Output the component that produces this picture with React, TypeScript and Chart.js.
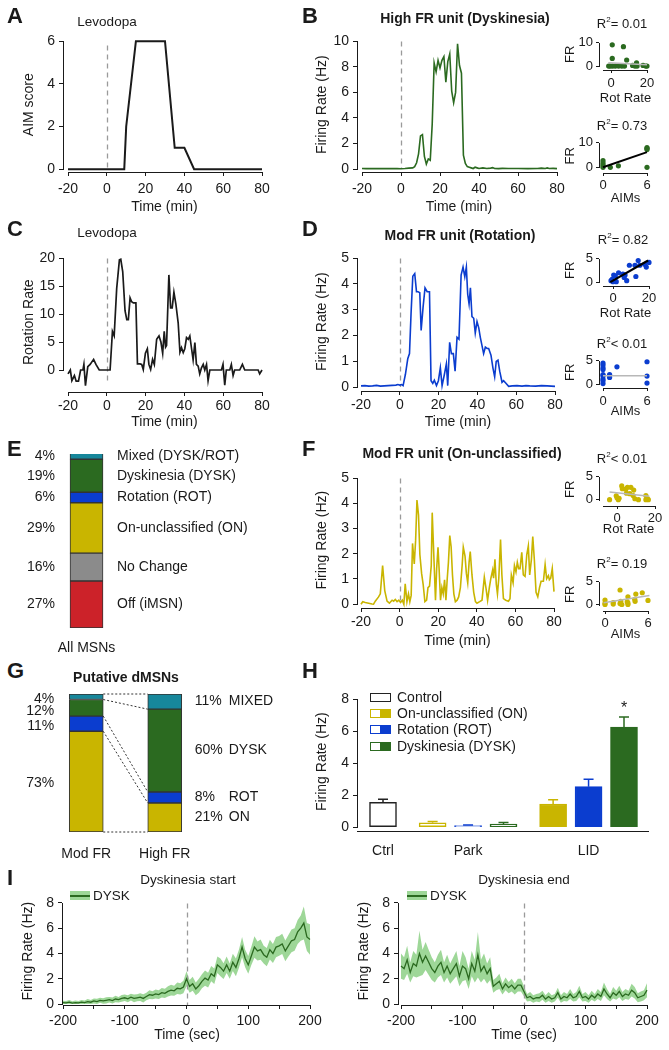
import React, { useEffect, useRef } from "react";
import { Chart, registerables } from "chart.js";

Chart.register(...registerables);

const FONT = "'Liberation Sans', Arial, Helvetica, sans-serif";
const INK = "#1a1a1a";
const DKGREEN = "#2b6a20";
const BLUE = "#0b3dcf";
const YELLOW = "#c9b500";
const TEAL = "#17879b";
const RED = "#cc2229";
const GRAY = "#8b8b8b";
const BAND = "rgba(120, 200, 112, 0.72)";
const FIT_GRAY = "#b8b8b8";

// ------------------------------------------------------------------ data
const MIN_TICKS = [-20, 0, 20, 40, 60, 80];

// A: AIM score vs time
const A_TIME = [-20, -15, -10, -5, 0, 5, 9, 10, 15, 20, 25, 30, 35, 40, 45, 50, 55, 60, 65, 70, 75, 80];
const A_AIM = [0, 0, 0, 0, 0, 0, 0, 2, 6, 6, 6, 6, 1, 1, 0, 0, 0, 0, 0, 0, 0, 0];

// B: High FR unit (Dyskinesia)
const B_TIME = [-20, -18, -16, -14, -12, -10, -8, -6, -4, -2, 0, 2, 4, 6, 7, 8, 9, 10, 11, 12, 13, 14, 15, 16, 17, 18, 19, 20, 21, 22, 23, 24, 25, 26, 27, 28, 29, 30, 31, 32, 33, 34, 35, 36, 37, 38, 39, 40, 42, 44, 46, 47, 48, 50, 52, 55, 60, 65, 70, 72, 74, 75, 76, 78, 80];
const B_FR = [0.05, 0.04, 0.05, 0.04, 0.05, 0.04, 0.05, 0.04, 0.05, 0.04, 0.03, 0.05, 0.08, 0.1, 0.2, 0.5, 1.2, 2.6, 2.7, 1.0, 0.4, 0.8, 0.7, 3.5, 8.3, 7.6, 8.5, 7.9, 8.5, 8.8, 6.8, 8.4, 9.0, 6.1, 5.2, 6.0, 9.8, 8.1, 7.5, 1.1, 0.44, 0.2, 0.15, 0.1, 0.05, 0.15, 0.1, 0.05, 0.1, 0.05, 0.08, 0.12, 0.05, 0.04, 0.06, 0.05, 0.05, 0.04, 0.05, 0.08, 0.05, 0.1, 0.05, 0.06, 0.04];
const B_ROT_X = [0.7, 6.9, 0.7, 8.7, 14.2, -1.3, -0.4, 0.9, 2.4, 4.2, 6, 7.5, 12, 13.3, 14.5, 17.8, 19.3, 20];
const B_ROT_Y = [9.1, 8.3, 3.3, 2.6, 1.4, 0, 0, 0, 0, 0, 0, 0, 0.3, 0, 0, 0.3, 0, 0];
const B_ROT_FIT_X = [-1.5, 20];
const B_ROT_FIT_Y = [1.4, 0.55];
const B_AIM_X = [0, 0, 0, 0, 1, 2.1, 6, 6, 6, 6];
const B_AIM_Y = [2.7, 1.7, 0.8, 0, 0, 0.6, 8.1, 7.7, 7.3, 0];
const B_AIM_FIT_X = [0, 6];
const B_AIM_FIT_Y = [0, 6.2];

// C: rotation rate
const C_TIME = [-20, -18.8, -18, -16.7, -15.8, -14.6, -13.5, -12.3, -11.8, -11, -9.8, -8.6, -6.8, -5.6, -3.9, 0, 1.7, 2.9, 3.8, 5.1, 6.5, 7.2, 8.2, 9.4, 10.3, 11.1, 12, 12.8, 13.7, 15, 15.8, 17.1, 18, 18.8, 19.9, 20.9, 21.7, 22.6, 23.6, 24.5, 25.7, 26.9, 27.9, 28.8, 29.6, 30.3, 30.8, 32, 32.9, 33.7, 34.6, 35.6, 36.8, 37.7, 38.5, 39.4, 40.2, 41.1, 42, 42.8, 43.7, 44.5, 45.4, 46.2, 47.1, 47.9, 48.8, 49.7, 50.5, 51.4, 52.2, 53.1, 59.1, 59.9, 60.8, 61.6, 63.4, 64.2, 65.1, 65.9, 68.5, 69.9, 71.1, 78, 78.8, 80];
const C_ROT = [-0.7, 0, -1.9, -1, -2, -2, 0, 0, 1, -2.8, 0.6, 1, 1.9, 1, 0, 0, 0, 6.9, 6.1, 14.6, 19.7, 19.8, 17.6, 10.6, 9, 9, 12.9, 12.2, 12, 12, 1.1, 1.1, 1, 0.1, 3, 3.8, 1, 0.1, 1.9, 1, 5.5, 6.1, 5, 3, 6.9, 4.1, 4.4, 17, 11.1, 11.1, 13.9, 11.8, 8.4, 3.2, 4, 3.1, 3.8, 5.8, 5.5, 6.1, 3.8, 1.8, 4.9, 1, 0.7, -0.7, 0.4, 1, 0, 1, -1.9, 0, 0, 1, -2.7, 0, 0, 1, -1, 0, 0, 1, 0, 0, -0.7, 0];

// D: Mod FR unit (Rotation)
const D_TIME = [-20, -18, -16, -14, -12, -10, -8, -6, -4, -2, -1, 0, 1, 1.7, 2.9, 4.1, 5, 5.8, 6.7, 7.7, 8.6, 9.4, 10.3, 11, 12, 13, 14.1, 15.3, 16.1, 17, 17.8, 18.9, 19.9, 20.9, 21.8, 23, 24, 24.7, 25.7, 26.6, 27.6, 28.5, 29.5, 30.5, 31.6, 32.6, 33.5, 34.3, 35, 35.7, 36.4, 37.2, 38.1, 38.9, 39.8, 40.7, 41.5, 42.4, 43.2, 44.1, 45, 45.8, 47, 48, 48.9, 49.7, 50.6, 51.5, 52.7, 53.5, 54.7, 56.1, 58, 60.4, 63, 65, 67, 70, 73, 76, 80];
const D_FR = [0.05, 0.06, 0.04, 0.05, 0.07, 0.04, 0.05, 0.06, 0.07, 0.08, 0.1, 0.08, 0.1, 0.06, 0.5, 1.1, 1.3, 2.85, 4.3, 4.4, 3.7, 3.7, 3.66, 2.2, 3.1, 3.85, 3.7, 3.7, 0.25, 0.15, 0.27, 0.06, 0.25, 0.75, 0.06, 0.5, 0.9, 0.06, 1.74, 1.3, 1.3, 0.62, 1.93, 1.86, 4.34, 4.65, 4.28, 4.65, 3.6, 3.23, 3.85, 2.73, 2.67, 2.1, 2.54, 2.3, 1.93, 1.6, 1.3, 1.55, 1.5, 1.5, 1.24, 0.75, 0.4, 1, 1.05, 0.62, 0.19, 0.25, 0.15, 0.03, 0.05, 0.06, 0.04, 0.06, 0.05, 0.04, 0.06, 0.05, 0.03];
const D_ROT_X = [-1.1, -0.5, 0.4, 1.3, 0, 1.8, 3.1, 5.5, 6.7, 6.2, 7.6, 9.1, 12.2, 12.7, 14, 14.9, 17.6, 18.5, 20];
const D_ROT_Y = [0.3, 0.6, 1.5, 1.3, 0.1, 0.1, 2.0, 1.7, 1.5, 1.0, 0.3, 3.6, 3.6, 1.2, 4.6, 3.6, 3.8, 3.2, 4.2];
const D_ROT_FIT_X = [-1.5, 19.5];
const D_ROT_FIT_Y = [0, 4.6];
const D_AIM_X = [0, 0, 0, 0, 0, 0, 0, 0, 0, 0.9, 0.9, 1.9, 6, 6, 6];
const D_AIM_Y = [4.5, 4.1, 3.5, 3.1, 2.0, 1.8, 1.1, 0.7, 0.1, 2.0, 1.4, 3.7, 4.8, 1.7, 0.2];
const D_AIM_FIT_X = [0, 6];
const D_AIM_FIT_Y = [1.8, 1.8];

// F: Mod FR unit (On-unclassified)
const F_TIME = [-20, -19.1, -17.8, -16, -14.3, -13.5, -12.6, -10.9, -10, -8.8, -7.7, -6.5, -5.3, -3.9, -3.1, -2.2, -1.3, -0.4, 0.5, 1.4, 2.2, 2.9, 3.8, 4.6, 5.3, 6, 6.7, 7.6, 8.3, 9, 9.8, 10.5, 11.4, 12.2, 13.1, 14, 14.7, 15.5, 16.4, 16.9, 17.8, 18.6, 19.2, 19.9, 20.5, 21.2, 21.9, 22.6, 23.3, 24, 24.7, 25.3, 26, 26.7, 27.4, 28.1, 28.9, 29.8, 30.6, 31.5, 32.4, 33, 33.9, 34.6, 35.3, 36, 36.6, 37.5, 38.4, 39.3, 40.1, 41.5, 42.7, 43.9, 44.8, 45.6, 46.5, 47.3, 48.2, 48.7, 49.4, 50.1, 50.7, 51.4, 52.3, 53, 53.8, 55, 56.4, 57.2, 57.9, 58.8, 59.5, 60.3, 61, 61.7, 62.4, 63.3, 64.1, 65, 65.9, 66.7, 67.4, 68.3, 69, 69.8, 70.7, 71.6, 72.5, 73.3, 74.5, 75.4, 76.2, 77.1, 77.6, 78.3, 79.1, 80];
const F_FR = [0, 0.1, 0.07, 0.04, 0.01, 0, 0.12, 0.29, 0.41, 1.53, 0.54, 0.12, 0.04, 0.16, 0.12, 0.19, 0.1, 0.16, 0.07, 0.16, 0, 0.81, 0.1, 0.41, 0.1, 0.35, 2.41, 1.6, 2.53, 4.13, 3.53, 1.97, 1.22, 0.79, 0.1, 0.16, 0.66, 0.72, 1.53, 3.63, 1.78, 0.16, 1.41, 2.26, 1.35, 0.16, 0.66, 0.41, 0.97, 0.16, 1.03, 1.66, 2.72, 2.28, 1.16, 0.41, 0.1, 0.16, 0.29, 0.66, 1.53, 2.26, 1.91, 1.22, 0.85, 1.66, 2.09, 1.16, 0.47, 0.1, 0.04, 0.1, 0.16, 1.07, 0.62, 0.16, 0.66, 1.03, 1.35, 1.03, 1.78, 0.79, 0.41, 1.03, 2.56, 1.16, 0.22, 0.16, 0.12, 0.22, 1.16, 0.85, 1.53, 1.28, 1.66, 1.41, 1.41, 2.06, 1.16, 1.1, 1.97, 2.31, 1.16, 1.78, 2.68, 1.78, 0.47, 0.29, 0.66, 0.91, 0.91, 1.57, 1.01, 1.13, 0.97, 1.03, 1.41, 0.5];
const F_ROT_X = [-3.9, -0.4, 0, 0.7, 1.1, 2.5, 2.8, 4.6, 5.5, 5, 7.3, 8.8, 6.7, 8.5, 9.4, 11.3, 15.2, 15.9, 16.5, 15.2];
const F_ROT_Y = [0, 0.86, 0.4, 0, 0.3, 3.0, 2.4, 2.3, 2.7, 1.4, 2.7, 2.1, 1.3, 0.9, 0.2, 0, 0.9, 0.3, 0, 0];
const F_ROT_FIT_X = [-3.9, 17];
const F_ROT_FIT_Y = [1.7, 0.75];
const F_AIM_X = [0, 0, 0, 1.15, 1.15, 2.1, 2.2, 2.1, 2.35, 3.1, 3.2, 3.2, 3.2, 4.15, 4.3, 4.2, 5.2, 6];
const F_AIM_Y = [1.0, 0.3, 0, 0.1, 0.45, 0.2, 0.7, 3.2, 0, 0.6, 1.7, 0, 0.35, 1.15, 2.3, 0.7, 2.6, 0.9];
const F_AIM_FIT_X = [-0.2, 6.2];
const F_AIM_FIT_Y = [0.4, 2.0];

// E: all MSNs (top to bottom)
const E_NAMES = ["Mixed (DYSK/ROT)", "Dyskinesia (DYSK)", "Rotation (ROT)", "On-unclassified (ON)", "No Change", "Off (iMSN)"];
const E_PCT = [4, 19, 6, 29, 16, 27];
const E_COLORS = [TEAL, DKGREEN, BLUE, YELLOW, GRAY, RED];
const E_CATEGORY = ["All MSNs"];

// G: putative dMSNs (top to bottom)
const G_CATS = ["Mod FR", "High FR"];
const G_NAMES = ["MIXED", "DYSK", "ROT", "ON"];
const G_MOD = [4, 12, 11, 73];
const G_HIGH = [11, 60, 8, 21];
const G_COLORS = [TEAL, DKGREEN, BLUE, YELLOW];

// H: firing rate by condition
const H_GROUPS = ["Ctrl", "Park", "LID"];
const H_SERIES = ["Control", "On-unclassified (ON)", "Rotation (ROT)", "Dyskinesia (DYSK)"];
const H_SERIES_COLORS = ["#222222", YELLOW, BLUE, DKGREEN];
const H_CTRL_MEAN = [1.55];
const H_CTRL_SEM = [0.2];
const H_PARK_MEAN = [0.28, 0.1, 0.2];
const H_PARK_SEM = [0.07, 0.04, 0.1];
const H_LID_MEAN = [1.45, 2.53, 6.25];
const H_LID_SEM = [0.26, 0.46, 0.63];
const H_LID_SIG = ["", "", "*"];

// I: population DYSK firing around dyskinesia start / end
const I_TIME = [
  -200, -195, -190, -185, -180, -175, -170, -165, -160, -155,
  -150, -145, -140, -135, -130, -125, -120, -115, -110, -105,
  -100, -95, -90, -85, -80, -75, -70, -65, -60, -55,
  -50, -45, -40, -35, -30, -25, -20, -15, -10, -5,
  0, 5, 10, 15, 20, 25, 30, 35, 40, 45,
  50, 55, 60, 65, 70, 75, 80, 85, 90, 95,
  100, 105, 110, 115, 120, 125, 130, 135, 140, 145,
  150, 155, 160, 165, 170, 175, 180, 185, 190, 195,
  200];
const I_START_MEAN = [
  0.12, 0.1, 0.15, 0.08, 0.12, 0.1, 0.15, 0.12, 0.2, 0.15,
  0.25, 0.2, 0.3, 0.25, 0.3, 0.35, 0.28, 0.4, 0.35, 0.45,
  0.5, 0.42, 0.55, 0.45, 0.5, 0.55, 0.45, 0.6, 0.75, 0.7,
  0.8, 0.75, 0.9, 0.85, 1.0, 1.1, 1.05, 1.25, 1.2, 1.35,
  2.0, 1.4, 1.6, 1.2, 1.45, 1.8, 2.05, 1.9, 2.4, 2.2,
  3.1, 2.9, 2.6, 3.1, 2.6, 3.3, 2.9, 3.6, 4.5, 3.6,
  3.1, 3.8, 4.5, 4.2, 4.3, 3.9, 3.7, 4.3, 4.0, 4.5,
  4.6, 4.75, 4.2, 4.6, 5.0, 5.1, 5.7, 6.0, 6.4, 5.3,
  5.1];
const I_START_SEM = [
  0.15, 0.15, 0.18, 0.15, 0.16, 0.15, 0.18, 0.16, 0.2, 0.18,
  0.2, 0.22, 0.2, 0.22, 0.25, 0.22, 0.24, 0.25, 0.22, 0.26,
  0.25, 0.28, 0.26, 0.3, 0.28, 0.3, 0.32, 0.3, 0.35, 0.32,
  0.35, 0.34, 0.38, 0.36, 0.4, 0.42, 0.4, 0.45, 0.45, 0.5,
  0.6, 0.5, 0.55, 0.5, 0.55, 0.55, 0.6, 0.58, 0.6, 0.62,
  0.65, 0.7, 0.62, 0.65, 0.6, 0.68, 0.7, 0.72, 0.8, 0.7,
  0.7, 0.72, 0.85, 0.75, 0.8, 0.7, 0.72, 0.78, 0.75, 0.8,
  0.78, 0.8, 0.82, 0.85, 0.9, 0.88, 0.95, 1.0, 1.3, 1.1,
  1.2];
const I_END_MEAN = [
  3.0, 2.8, 3.5, 2.5, 3.2, 3.0, 4.0, 3.3, 3.8, 3.3,
  2.8, 2.5, 3.0, 3.3, 2.5, 3.0, 2.4, 2.8, 3.2, 2.2,
  3.0, 2.8, 2.0, 3.2, 2.6, 3.9, 2.6, 3.0, 2.4, 2.8,
  1.4, 1.6, 1.8, 1.2, 1.6, 1.3, 1.5, 1.2, 1.5, 1.5,
  1.0, 0.5, 0.6, 0.4, 0.5, 0.5, 0.7, 0.4, 0.6, 0.4,
  0.5, 0.9, 0.4, 0.6, 0.5, 0.8, 0.5, 0.6, 1.0, 0.5,
  0.6, 0.4, 0.7, 0.5, 0.8, 0.6, 1.2, 0.8, 0.5, 0.9,
  0.7, 1.0, 0.6, 0.8, 0.7, 1.1, 0.9, 0.5, 0.6, 0.7,
  1.1];
const I_END_SEM = [
  1.0, 0.9, 1.1, 0.8, 1.0, 0.9, 1.8, 1.0, 1.1, 1.0,
  0.9, 0.8, 0.9, 1.0, 0.8, 0.9, 0.8, 0.9, 1.0, 0.8,
  1.2, 0.9, 0.8, 1.0, 0.9, 1.8, 0.9, 1.0, 0.8, 0.9,
  0.5, 0.5, 0.6, 0.45, 0.5, 0.45, 0.5, 0.45, 0.5, 0.5,
  0.4, 0.3, 0.35, 0.3, 0.3, 0.35, 0.35, 0.3, 0.35, 0.3,
  0.3, 0.4, 0.3, 0.35, 0.3, 0.4, 0.3, 0.35, 0.45, 0.3,
  0.35, 0.3, 0.35, 0.3, 0.4, 0.35, 0.5, 0.4, 0.3, 0.45,
  0.35, 0.45, 0.35, 0.4, 0.35, 0.5, 0.45, 0.35, 0.4, 0.4,
  0.55];
const I_TICKS = [-200, -150, -100, -50, 0, 50, 100, 150, 200];

// ------------------------------------------------------------------ helpers
// value range of an axis whose edge pixels are pa/pb, given two reference ticks
const range = (v1: number, p1: number, v2: number, p2: number, pa: number, pb: number): [number, number] => {
  const k = (v2 - v1) / (p2 - p1);
  return [v1 + (pa - p1) * k, v1 + (pb - p1) * k];
};
const pts = (xs: number[], ys: number[]) => xs.map((x, i) => ({ x, y: ys[i] }));
const al = (p: number) => Math.round(p + 0.5) - 0.5;

function lin(r: [number, number], ticks: number[], o: any = {}) {
  return {
    type: "linear",
    min: r[0],
    max: r[1],
    offset: false,
    afterBuildTicks: (s: any) => {
      s.ticks = ticks.map((v) => ({ value: v }));
    },
    grid: { display: o.noTicks ? false : true, drawOnChartArea: false, drawTicks: true, tickLength: o.tl ?? 4, color: INK, lineWidth: 1, offset: false },
    border: { display: false },
    ticks: {
      color: INK,
      font: { family: FONT, size: o.size ?? 14 },
      padding: o.pad ?? 4,
      maxRotation: 0,
      autoSkip: false,
      ...(o.cb ? { callback: o.cb } : {}),
    },
    title: o.title
      ? { display: true, text: o.title, color: INK, font: { family: FONT, size: o.tsize ?? o.size ?? 14 }, at: o.at }
      : { display: false },
  };
}

function rAxes(o: any) {
  return {
    id: "rAxes",
    afterDraw(chart: any) {
      const { ctx, chartArea: ca, scales } = chart;
      const span = (s: any) => {
        const ps = s.ticks.map((t: any) => s.getPixelForValue(t.value));
        return [Math.min(...ps), Math.max(...ps)];
      };
      ctx.save();
      ctx.strokeStyle = INK;
      ctx.lineWidth = 1;
      ctx.setLineDash([]);
      if (o.x !== undefined) {
        let [a, b] = span(scales.x);
        if (o.x === "edge") {
          a = ca.left;
          b = ca.right;
        } else if (typeof o.x === "number") a = ca.left + o.x;
        const y = al(ca.bottom);
        ctx.beginPath();
        ctx.moveTo(Math.round(a), y);
        ctx.lineTo(Math.round(b) + 1, y);
        ctx.stroke();
      }
      if (o.y !== undefined) {
        let [a, b] = span(scales.y);
        if (o.y === "edge") {
          a = ca.top;
          b = ca.bottom;
        }
        const x = al(ca.left);
        ctx.beginPath();
        ctx.moveTo(x, Math.round(a));
        ctx.lineTo(x, Math.round(b) + 1);
        ctx.stroke();
      }
      ctx.restore();
    },
  };
}

function vline(xValue: number, topPad: number, bottomPad: number) {
  return {
    id: "vline",
    beforeDatasetsDraw(chart: any) {
      const { ctx, chartArea: ca, scales } = chart;
      const x = Math.round(scales.x.getPixelForValue(xValue)) + 0.5;
      ctx.save();
      ctx.strokeStyle = "#9a9a9a";
      ctx.lineWidth = 1.3;
      ctx.setLineDash([5, 4]);
      ctx.beginPath();
      ctx.moveTo(x, ca.top + topPad);
      ctx.lineTo(x, ca.bottom - bottomPad);
      ctx.stroke();
      ctx.restore();
    },
  };
}

function stackLabels(cols: any[]) {
  return {
    id: "stackLabels",
    afterDatasetsDraw(chart: any) {
      const { ctx } = chart;
      const n = chart.data.datasets.length;
      ctx.save();
      ctx.font = `14px ${FONT}`;
      ctx.fillStyle = INK;
      ctx.textBaseline = "middle";
      for (const c of cols) {
        let prev = -1e9;
        for (let i = n - 1; i >= 0; i--) {
          const el: any = chart.getDatasetMeta(i).data[c.index];
          const txt = chart.data.datasets[i][c.key][c.index];
          const y = Math.max((el.y + el.base) / 2 + (c.shift || 0), prev + (c.gap || 0));
          prev = y;
          if (c.side === "left") {
            ctx.textAlign = "right";
            ctx.fillText(txt, el.x - el.width / 2 - c.dx, y);
          } else {
            ctx.textAlign = "left";
            ctx.fillText(txt, el.x + el.width / 2 + c.dx, y);
          }
        }
      }
      ctx.restore();
    },
  };
}

function connectors() {
  return {
    id: "connectors",
    afterDatasetsDraw(chart: any) {
      const { ctx } = chart;
      const n = chart.data.datasets.length;
      const seg = (i: number, j: number): any => chart.getDatasetMeta(i).data[j];
      const a0 = seg(0, 0);
      const b0 = seg(0, 1);
      ctx.save();
      ctx.strokeStyle = "#333";
      ctx.lineWidth = 1;
      ctx.setLineDash([2, 2]);
      const draw = (ya: number, yb: number) => {
        ctx.beginPath();
        ctx.moveTo(a0.x + a0.width / 2, ya);
        ctx.lineTo(b0.x - b0.width / 2, yb);
        ctx.stroke();
      };
      draw(a0.base, b0.base);
      for (let i = 0; i < n; i++) draw(seg(i, 0).y, seg(i, 1).y);
      ctx.restore();
    },
  };
}

function errBars(bars: any[]) {
  return {
    id: "errBars",
    afterDatasetsDraw(chart: any) {
      const { ctx, scales } = chart;
      const meta = chart.getDatasetMeta(0);
      ctx.save();
      ctx.lineWidth = 1.5;
      bars.forEach((b, i) => {
        const el: any = meta.data[i];
        const top = scales.y.getPixelForValue(b.y + b.err);
        ctx.strokeStyle = b.color;
        ctx.beginPath();
        ctx.moveTo(el.x, el.y);
        ctx.lineTo(el.x, top);
        ctx.moveTo(el.x - 5, top);
        ctx.lineTo(el.x + 5, top);
        ctx.stroke();
        if (b.mark) {
          ctx.fillStyle = INK;
          ctx.font = `16px ${FONT}`;
          ctx.textAlign = "center";
          ctx.textBaseline = "middle";
          ctx.fillText(b.mark, el.x, top - 8);
        }
      });
      ctx.restore();
    },
  };
}

const lineDs = (xs: number[], ys: number[], color: string, width: number) => ({
  data: pts(xs, ys),
  borderColor: color,
  borderWidth: width,
  pointRadius: 0,
  tension: 0,
  fill: false,
});

// ------------------------------------------------------------------ chart box
type Rect = { left: number; top: number; width: number; height: number };
type Area = { l: number; t: number; r: number; b: number };

function ChartBox({ box, area, make }: { box: Rect; area: Area; make: () => any }) {
  const ref = useRef<HTMLCanvasElement>(null);
  useEffect(() => {
    const cfg = make();
    const o = cfg.options;
    const sc = o.scales;
    const bottom = box.top + box.height;
    const right = box.left + box.width;
    const pad = { top: area.t - box.top, right: right - area.r, left: 0, bottom: 0 };
    if (sc.x.display === false) pad.bottom = bottom - area.b;
    else
      sc.x.afterFit = (s: any) => {
        s.height = bottom - area.b;
      };
    if (sc.y.display === false) pad.left = area.l - box.left;
    else
      sc.y.afterFit = (s: any) => {
        s.width = area.l - box.left;
      };
    if (sc.x.title && sc.x.title.display && sc.x.title.at !== undefined) {
      const lh = sc.x.title.font.size * 1.2;
      sc.x.title.padding = { top: 0, bottom: bottom - sc.x.title.at - lh / 2 };
    }
    if (sc.y.title && sc.y.title.display && sc.y.title.at !== undefined) {
      const lh = sc.y.title.font.size * 1.2;
      sc.y.title.padding = { top: sc.y.title.at - box.left - lh / 2, bottom: 0 };
    }
    o.layout = { padding: pad, autoPadding: false };
    o.responsive = false;
    o.maintainAspectRatio = false;
    o.animation = false;
    o.devicePixelRatio = 1;
    o.events = [];
    o.plugins = { ...(o.plugins || {}), legend: { display: false }, tooltip: { enabled: false } };
    const chart = new Chart(ref.current as HTMLCanvasElement, cfg);
    return () => chart.destroy();
  }, []);
  return (
    <canvas
      ref={ref}
      width={box.width}
      height={box.height}
      style={{ position: "absolute", left: box.left, top: box.top, width: box.width, height: box.height, display: "block" }}
    />
  );
}

// ------------------------------------------------------------------ panels
function timeLine(xs: number[], ys: number[], color: string, w: number, xr: any, yr: any, yTicks: number[], yTitle: string, yAt: number, xAt: number, xPad: number, vpad: [number, number]) {
  return () => ({
    type: "line",
    data: { datasets: [lineDs(xs, ys, color, w)] },
    options: {
      scales: {
        x: lin(xr, MIN_TICKS, { title: "Time (min)", at: xAt, pad: xPad }),
        y: lin(yr, yTicks, { title: yTitle, at: yAt, pad: 4 }),
      },
    },
    plugins: [rAxes({ x: "ticks", y: "ticks" }), vline(0, vpad[0], vpad[1])],
  });
}

function inset(xs: number[], ys: number[], fx: number[], fy: number[], color: string, fitColor: string, fitW: number, xr: any, yr: any, xTicks: number[], yTicks: number[], xTitle: string, xAt: number, xPad: number) {
  return () => ({
    type: "scatter",
    data: {
      datasets: [
        { type: "line", data: pts(fx, fy), borderColor: fitColor, borderWidth: fitW, pointRadius: 0, showLine: true, fill: false, order: 0 },
        { data: pts(xs, ys), backgroundColor: color, borderWidth: 0, pointRadius: 2.6, order: 1 },
      ],
    },
    options: {
      scales: {
        x: lin(xr, xTicks, { size: 13, tl: 3, pad: xPad, title: xTitle, at: xAt }),
        y: lin(yr, yTicks, { size: 13, tl: 3, pad: 3, title: "FR", at: 570 }),
      },
    },
    plugins: [rAxes({ x: 4, y: "ticks" })],
  });
}

function bandChart(mean: number[], sem: number[], yAt: number, xr: any) {
  const upper = mean.map((m, i) => m + sem[i]);
  const lower = mean.map((m, i) => Math.max(0, m - sem[i]));
  return () => ({
    type: "line",
    data: {
      datasets: [
        { data: pts(I_TIME, upper), borderColor: "rgba(0,0,0,0)", borderWidth: 0, pointRadius: 0, fill: "+1", backgroundColor: BAND, tension: 0, order: 2 },
        { data: pts(I_TIME, lower), borderColor: "rgba(0,0,0,0)", borderWidth: 0, pointRadius: 0, fill: false, tension: 0, order: 1 },
        { data: pts(I_TIME, mean), borderColor: DKGREEN, borderWidth: 1.3, pointRadius: 0, fill: false, tension: 0, order: 0 },
      ],
    },
    options: {
      plugins: { filler: { drawTime: "beforeDatasetsDraw" } },
      scales: {
        x: lin(xr, I_TICKS, { title: "Time (sec)", at: 1035, pad: 4, cb: (v: number) => (v % 100 === 0 ? String(v) : "") }),
        y: lin(range(0, 1004, 8, 891, 1005, 885), [0, 2, 4, 6, 8], { title: "Firing Rate (Hz)", at: yAt, pad: 4 }),
      },
    },
    plugins: [rAxes({ x: "ticks", y: "ticks" }), vline(0, 6, 0)],
  });
}

function makeE() {
  const datasets = E_NAMES.map((n, i) => ({
    label: n,
    data: [E_PCT[i]],
    backgroundColor: E_COLORS[i],
    borderColor: "#333",
    borderWidth: 1,
    borderSkipped: false,
    barThickness: 33,
    pct: [`${E_PCT[i]}%`],
    name: [n],
  })).reverse();
  return {
    type: "bar",
    data: { labels: E_CATEGORY, datasets },
    options: {
      scales: {
        x: { type: "category", stacked: true, grid: { display: false }, border: { display: false }, ticks: { color: INK, font: { family: FONT, size: 14 }, padding: 4 } },
        y: { display: false, stacked: true, min: 0, max: 100 },
      },
    },
    plugins: [stackLabels([{ index: 0, side: "left", key: "pct", dx: 15 }, { index: 0, side: "right", key: "name", dx: 14 }])],
  };
}

function makeG() {
  const datasets = G_NAMES.map((n, i) => ({
    label: n,
    data: [G_MOD[i], G_HIGH[i]],
    backgroundColor: G_COLORS[i],
    borderColor: "#333",
    borderWidth: 1,
    borderSkipped: false,
    barThickness: 34,
    pct: [`${G_MOD[i]}%`, `${G_HIGH[i]}%`],
    name: [n, n],
  })).reverse();
  return {
    type: "bar",
    data: { labels: G_CATS, datasets },
    options: {
      scales: {
        x: { type: "category", stacked: true, grid: { display: false }, border: { display: false }, ticks: { color: INK, font: { family: FONT, size: 14 }, padding: 6 } },
        y: { display: false, stacked: true, min: 0, max: 100 },
      },
    },
    plugins: [
      connectors(),
      stackLabels([
        { index: 0, side: "left", key: "pct", dx: 15, shift: 2, gap: 12 },
        { index: 1, side: "right", key: "pct", dx: 13 },
        { index: 1, side: "right", key: "name", dx: 47 },
      ]),
    ],
  };
}

function makeH() {
  const GAP = 0.4; // extra spacing between condition groups (in bar slots)
  const bars: any[] = [];
  const centers: number[] = [];
  let pos = 0;
  const groups = [
    { means: H_CTRL_MEAN, sems: H_CTRL_SEM, series: [0], hollow: true, marks: [""] },
    { means: H_PARK_MEAN, sems: H_PARK_SEM, series: [1, 2, 3], hollow: true, marks: ["", "", ""] },
    { means: H_LID_MEAN, sems: H_LID_SEM, series: [1, 2, 3], hollow: false, marks: H_LID_SIG },
  ];
  groups.forEach((g, gi) => {
    if (gi > 0) pos += GAP;
    const start = pos;
    g.means.forEach((m, k) => {
      const c = H_SERIES_COLORS[g.series[k]];
      bars.push({ x: pos, y: m, err: g.sems[k], color: c, fill: g.hollow ? "#ffffff" : c, mark: g.marks[k] });
      pos += 1;
    });
    centers.push((start + pos - 1) / 2);
  });
  const xr = range(0, 383, bars[bars.length - 1].x, 624, 357, 648);
  return {
    type: "bar",
    data: {
      datasets: [
        {
          data: bars.map((b) => ({ x: b.x, y: b.y })),
          backgroundColor: bars.map((b) => b.fill),
          borderColor: bars.map((b) => b.color),
          borderWidth: 1.5,
          borderSkipped: false,
          barThickness: 27,
        },
      ],
    },
    options: {
      scales: {
        x: lin(xr, centers, { noTicks: true, pad: 8, cb: (_v: number, i: number) => H_GROUPS[i] }),
        y: lin(range(0, 827, 8, 692, 831, 685), [0, 2, 4, 6, 8], { title: "Firing Rate (Hz)", at: 322, pad: 4 }),
      },
    },
    plugins: [rAxes({ x: "edge", y: "ticks" }), errBars(bars)],
  };
}

const PANELS: { box: Rect; area: Area; make: () => any }[] = [
  // A
  {
    box: { left: 0, top: 25, width: 280, height: 197 },
    area: { l: 63, t: 30, r: 266, b: 172 },
    make: timeLine(A_TIME, A_AIM, INK, 2, range(-20, 68, 80, 262, 63, 266), range(0, 169, 6, 34, 172, 30), [0, 2, 4, 6], "AIM score", 29, 207, 5, [8, 3]),
  },
  // B
  {
    box: { left: 305, top: 25, width: 265, height: 197 },
    area: { l: 357, t: 30, r: 561, b: 172 },
    make: timeLine(B_TIME, B_FR, DKGREEN, 1.6, range(-20, 362, 80, 557, 357, 561), range(0, 169, 10, 34, 172, 30), [0, 2, 4, 6, 8, 10], "Firing Rate (Hz)", 322, 207, 5, [4, 3]),
  },
  {
    box: { left: 560, top: 28, width: 109, height: 80 },
    area: { l: 599, t: 30, r: 652, b: 70 },
    make: inset(B_ROT_X, B_ROT_Y, B_ROT_FIT_X, B_ROT_FIT_Y, DKGREEN, FIT_GRAY, 1.5, range(0, 611, 20, 647, 599, 652), range(0, 65, 10, 35, 70, 30), [0, 20], [0, 10], "Rot Rate", 98, 3),
  },
  {
    box: { left: 560, top: 128, width: 109, height: 84 },
    area: { l: 599, t: 131, r: 652, b: 173 },
    make: inset(B_AIM_X, B_AIM_Y, B_AIM_FIT_X, B_AIM_FIT_Y, DKGREEN, "#000", 2, range(0, 603, 6, 647, 599, 652), range(0, 166, 10, 136, 173, 131), [0, 6], [0, 10], "AIMs", 198, 1.5),
  },
  // C
  {
    box: { left: 0, top: 240, width: 280, height: 192 },
    area: { l: 63, t: 246, r: 266, b: 392 },
    make: timeLine(C_TIME, C_ROT, INK, 1.7, range(-20, 68, 80, 262, 63, 266), range(0, 369, 20, 252, 392, 246), [0, 5, 10, 15, 20], "Rotation Rate", 29, 422, 2, [6, 10]),
  },
  // D
  {
    box: { left: 305, top: 240, width: 265, height: 192 },
    area: { l: 357, t: 246, r: 559, b: 391 },
    make: timeLine(D_TIME, D_FR, BLUE, 1.6, range(-20, 361, 80, 555, 357, 559), range(0, 387, 5, 252, 391, 246), [0, 1, 2, 3, 4, 5], "Firing Rate (Hz)", 322, 422, 2, [6, 4]),
  },
  {
    box: { left: 560, top: 244, width: 109, height: 78 },
    area: { l: 599, t: 246, r: 652, b: 286 },
    make: inset(D_ROT_X, D_ROT_Y, D_ROT_FIT_X, D_ROT_FIT_Y, BLUE, "#000", 2.2, range(0, 613, 20, 649, 599, 652), range(0, 281, 5, 251, 286, 246), [0, 20], [0, 5], "Rot Rate", 313, 2),
  },
  {
    box: { left: 560, top: 346, width: 109, height: 76 },
    area: { l: 599, t: 349, r: 652, b: 388 },
    make: inset(D_AIM_X, D_AIM_Y, D_AIM_FIT_X, D_AIM_FIT_Y, BLUE, FIT_GRAY, 1.5, range(0, 603, 6, 647, 599, 652), range(0, 383, 5, 354, 388, 349), [0, 6], [0, 5], "AIMs", 411, 3),
  },
  // E
  { box: { left: 0, top: 445, width: 300, height: 210 }, area: { l: 60, t: 454, r: 113, b: 628 }, make: makeE },
  // F
  {
    box: { left: 305, top: 460, width: 265, height: 192 },
    area: { l: 357, t: 465, r: 558, b: 608 },
    make: timeLine(F_TIME, F_FR, YELLOW, 1.6, range(-20, 361, 80, 554, 357, 558), range(0, 604, 5, 471, 608, 465), [0, 1, 2, 3, 4, 5], "Firing Rate (Hz)", 322, 641, 2, [6, 4]),
  },
  {
    box: { left: 560, top: 462, width: 109, height: 76 },
    area: { l: 599, t: 464, r: 658, b: 506 },
    make: inset(F_ROT_X, F_ROT_Y, F_ROT_FIT_X, F_ROT_FIT_Y, YELLOW, FIT_GRAY, 1.5, range(0, 617, 20, 655, 599, 658), range(0, 498, 5, 469, 506, 464), [0, 20], [0, 5], "Rot Rate", 529, 1.5),
  },
  {
    box: { left: 560, top: 567, width: 109, height: 80 },
    area: { l: 599, t: 570, r: 652, b: 611 },
    make: inset(F_AIM_X, F_AIM_Y, F_AIM_FIT_X, F_AIM_FIT_Y, YELLOW, FIT_GRAY, 1.5, range(0, 605, 6, 648, 599, 652), range(0, 603, 5, 575, 611, 570), [0, 6], [0, 5], "AIMs", 634, 1.5),
  },
  // G
  { box: { left: 0, top: 685, width: 300, height: 185 }, area: { l: 47, t: 694, r: 204, b: 832 }, make: makeG },
  // H
  { box: { left: 305, top: 680, width: 364, height: 180 }, area: { l: 357, t: 685, r: 648, b: 831 }, make: makeH },
  // I
  {
    box: { left: 0, top: 885, width: 330, height: 165 },
    area: { l: 62, t: 885, r: 312, b: 1005 },
    make: bandChart(I_START_MEAN, I_START_SEM, 28, range(-200, 63, 200, 310, 62, 312)),
  },
  {
    box: { left: 335, top: 885, width: 334, height: 165 },
    area: { l: 398, t: 885, r: 650, b: 1005 },
    make: bandChart(I_END_MEAN, I_END_SEM, 364, range(-200, 401, 200, 647, 398, 650)),
  },
];

// ------------------------------------------------------------------ text
function Txt({ x, y, children, size = 14, bold = false, align = "center" }: any) {
  const tx = align === "center" ? "-50%" : align === "right" ? "-100%" : "0";
  return (
    <div
      style={{
        position: "absolute",
        left: x,
        top: y,
        transform: `translate(${tx}, -50%)`,
        fontFamily: FONT,
        fontSize: size,
        fontWeight: bold ? 700 : 400,
        lineHeight: 1,
        whiteSpace: "nowrap",
        color: INK,
      }}
    >
      {children}
    </div>
  );
}

const R2 = ({ rel, v }: { rel: string; v: string }) => (
  <>
    R<span style={{ fontSize: 8, position: "relative", top: -6 }}>2</span>
    {rel === "=" ? "= " : "< "}
    {v}
  </>
);

function Box({ x, y, w, h, border, fill }: any) {
  return (
    <div
      style={{
        position: "absolute",
        left: x,
        top: y,
        width: w,
        height: h,
        boxSizing: "border-box",
        border: border ? `1.5px solid ${border}` : "none",
        background: fill || "transparent",
      }}
    />
  );
}

function BandKey({ x, y }: any) {
  return (
    <div style={{ position: "absolute", left: x, top: y, width: 20, height: 9, background: BAND }}>
      <div style={{ position: "absolute", left: 0, top: 3.5, width: 20, height: 2, background: DKGREEN }} />
    </div>
  );
}

export default function App() {
  const legendRows = [697, 713, 729, 746];
  return (
    <div style={{ position: "absolute", left: 0, top: 0, width: 669, height: 1050, background: "#fff", overflow: "hidden" }}>
      {PANELS.map((p, i) => (
        <ChartBox key={i} box={p.box} area={p.area} make={p.make} />
      ))}

      {/* panel letters */}
      <Txt x={7} y={16} size={22} bold align="left">A</Txt>
      <Txt x={302} y={16} size={22} bold align="left">B</Txt>
      <Txt x={7} y={229} size={22} bold align="left">C</Txt>
      <Txt x={302} y={229} size={22} bold align="left">D</Txt>
      <Txt x={7} y={449} size={22} bold align="left">E</Txt>
      <Txt x={302} y={449} size={22} bold align="left">F</Txt>
      <Txt x={7} y={671} size={22} bold align="left">G</Txt>
      <Txt x={302} y={671} size={22} bold align="left">H</Txt>
      <Txt x={7} y={878} size={22} bold align="left">I</Txt>

      {/* annotations */}
      <Txt x={107} y={22} size={13.5}>Levodopa</Txt>
      <Txt x={107} y={233} size={13.5}>Levodopa</Txt>
      <Txt x={465} y={18} bold>High FR unit (Dyskinesia)</Txt>
      <Txt x={460} y={235} bold>Mod FR unit (Rotation)</Txt>
      <Txt x={462} y={453} bold>Mod FR unit (On-unclassified)</Txt>

      <Txt x={622} y={23} size={13}><R2 rel="=" v="0.01" /></Txt>
      <Txt x={622} y={125} size={13}><R2 rel="=" v="0.73" /></Txt>
      <Txt x={623} y={239} size={13}><R2 rel="=" v="0.82" /></Txt>
      <Txt x={622} y={343} size={13}><R2 rel="<" v="0.01" /></Txt>
      <Txt x={622} y={458} size={13}><R2 rel="<" v="0.01" /></Txt>
      <Txt x={622} y={563} size={13}><R2 rel="=" v="0.19" /></Txt>

      <Txt x={126} y={677} bold>Putative dMSNs</Txt>

      {/* H legend */}
      <Box x={370} y={legendRows[0] - 4} w={21} h={9} border={H_SERIES_COLORS[0]} fill="#fff" />
      {[1, 2, 3].map((k) => (
        <React.Fragment key={k}>
          <Box x={370} y={legendRows[k] - 4} w={11} h={9} border={H_SERIES_COLORS[k]} fill="#fff" />
          <Box x={380} y={legendRows[k] - 4} w={11} h={9} fill={H_SERIES_COLORS[k]} />
        </React.Fragment>
      ))}
      {H_SERIES.map((s, k) => (
        <Txt key={s} x={397} y={legendRows[k]} align="left">{s}</Txt>
      ))}

      {/* I titles + legends */}
      <Txt x={188} y={880} size={13.5}>Dyskinesia start</Txt>
      <Txt x={524} y={880} size={13.5}>Dyskinesia end</Txt>
      <BandKey x={70} y={891} />
      <Txt x={93} y={896} size={13.5} align="left">DYSK</Txt>
      <BandKey x={407} y={891} />
      <Txt x={430} y={896} size={13.5} align="left">DYSK</Txt>
    </div>
  );
}
